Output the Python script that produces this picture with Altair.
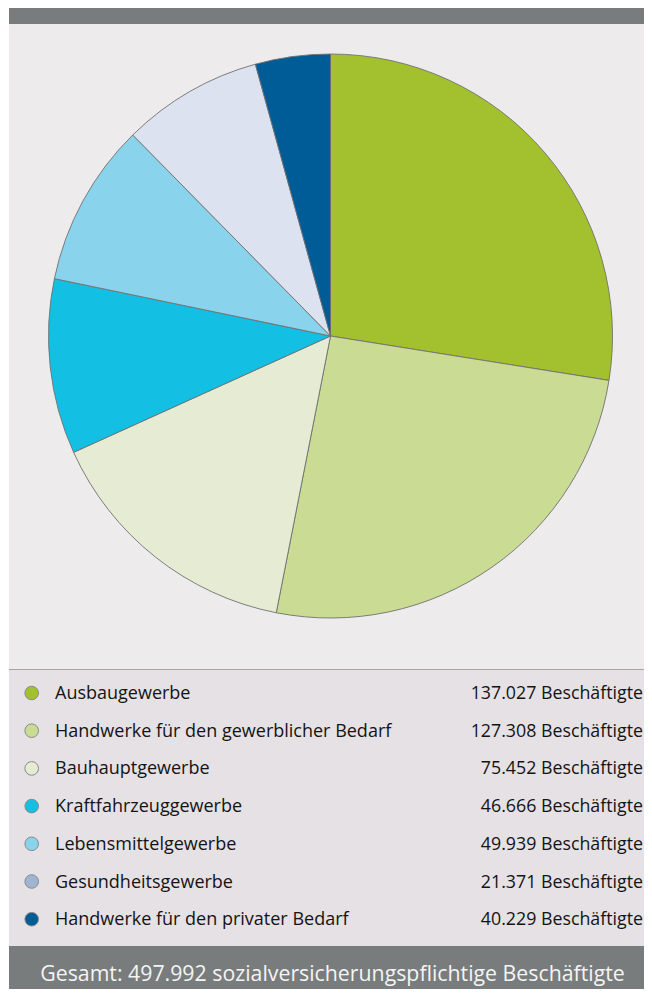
import altair as alt
import pandas as pd

# ---- data ----
categories = [
    "Ausbaugewerbe",
    "Handwerke für den gewerblicher Bedarf",
    "Bauhauptgewerbe",
    "Kraftfahrzeuggewerbe",
    "Lebensmittelgewerbe",
    "Gesundheitsgewerbe",
    "Handwerke für den privater Bedarf",
]
values = [137027, 127308, 75452, 46666, 49939, 21371, 40229]
legend_colors = ["#a3c02e", "#cadb93", "#e6ecd4", "#13bfe3", "#89d4ec", "#a0b4d3", "#005c96"]

# slices as drawn in the pie (clockwise from 12 o'clock)
pie_values = [137027, 127308, 75452, 49939, 46666, 40229, 21371]
pie_colors = ["#a3c02e", "#cadb93", "#e6ecd4", "#13bfe3", "#89d4ec", "#dce2ef", "#005c96"]

unit = "Beschäftigte"
total_text = "Gesamt: 497.992 sozialversicherungspflichtige Beschäftigte"


def de_num(v):
    return f"{v:,}".replace(",", ".")


FONT = "Open Sans"
W, H = 636, 981

legend_df = pd.DataFrame({
    "row": list(range(len(categories))),
    "cat": categories,
    "val": [de_num(v) + " " + unit for v in values],
})
pie_df = pd.DataFrame({
    "i": list(range(len(pie_values))),
    "k": [f"s{i}" for i in range(len(pie_values))],
    "v": pie_values,
})
one = pd.DataFrame({"a": [0]})


def band(y0, y1, color, x0=1, x1=W):
    return alt.Chart(one).mark_rect(color=color).encode(
        x=alt.value(x0), x2=alt.value(x1), y=alt.value(y0), y2=alt.value(y1)
    )


top_band = band(0, 16, "#787c7c")
panel = band(16, 661, "#eeebec")
sep = band(661, 662, "#a4a4a4")
legend_panel = band(662, 938, "#e5e1e4")
footer = band(938, H, "#787c7c")

pie = alt.Chart(pie_df).mark_arc(outerRadius=282, stroke="#707070", strokeWidth=0.9).encode(
    theta=alt.Theta("v:Q", stack=True),
    color=alt.Color("k:N", scale=alt.Scale(domain=list(pie_df["k"]), range=pie_colors), legend=None),
    order=alt.Order("i:Q"),
    x=alt.value(322.5),
    y=alt.value(328),
)

yrow = alt.Y("row:Q", scale=alt.Scale(domain=[0, 6], range=[685, 911.2], nice=False, zero=False), axis=None)

dots = alt.Chart(legend_df).mark_circle(size=185, opacity=1, stroke="#8a8a8a", strokeWidth=1).encode(
    x=alt.value(23.7),
    y=yrow,
    fill=alt.Fill("cat:N", scale=alt.Scale(domain=categories, range=legend_colors), legend=None),
)

labels = alt.Chart(legend_df).mark_text(
    align="left", baseline="alphabetic", dy=6, fontSize=18, font=FONT, color="#141414"
).encode(x=alt.value(47), y=yrow, text="cat:N")

vals = alt.Chart(legend_df).mark_text(
    align="right", baseline="alphabetic", dy=6, fontSize=17.8, font=FONT, color="#141414"
).encode(x=alt.value(635), y=yrow, text="val:N")

footer_text = alt.Chart(pd.DataFrame({"t": [total_text]})).mark_text(
    align="center", baseline="alphabetic", fontSize=21.3, font=FONT, color="#f4f4f4"
).encode(x=alt.value(324.5), y=alt.value(973), text="t:N")

chart = alt.layer(
    top_band, panel, sep, legend_panel, footer, pie, dots, labels, vals, footer_text
).resolve_scale(color="independent", fill="independent").properties(
    width=W, height=H, padding=0, autosize=alt.AutoSizeParams(type="none")
).configure_view(stroke=None)

chart.save("out.html", embed_options={"renderer": "svg", "actions": False})
